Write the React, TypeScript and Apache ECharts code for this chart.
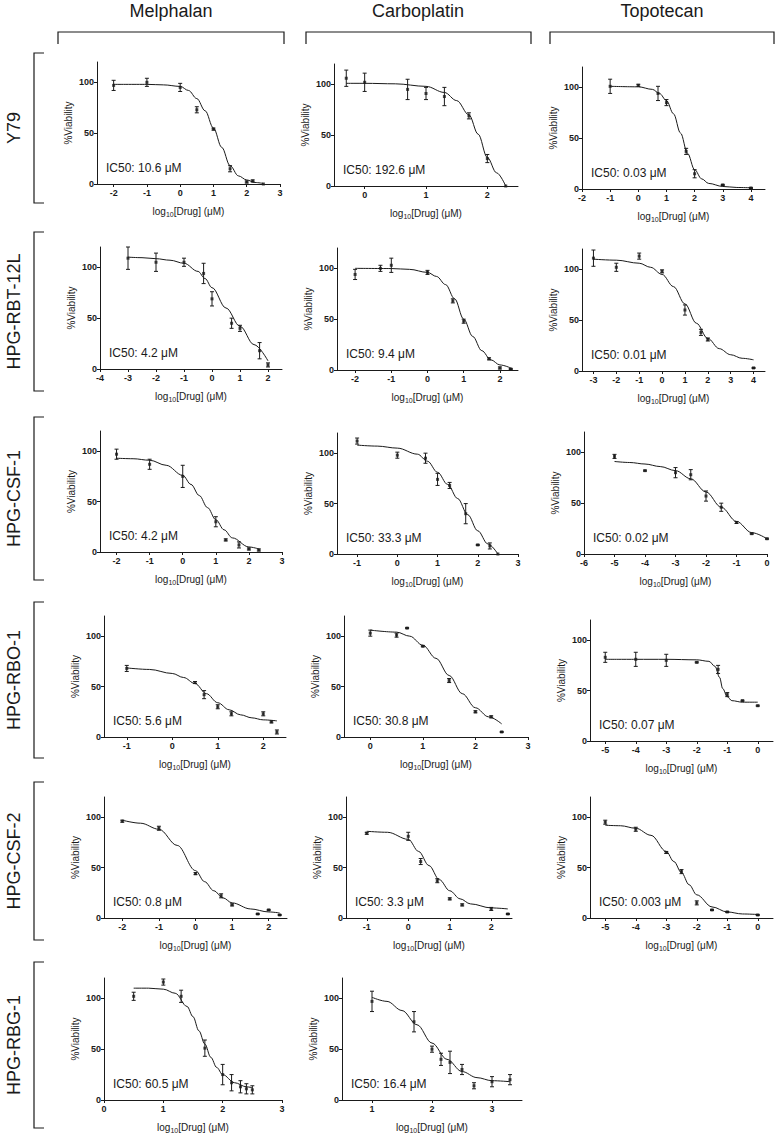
import React, { useEffect, useRef } from "react";
import * as echarts from "echarts";

// ---------- labels ----------
const DRUGS = ["Melphalan", "Carboplatin", "Topotecan"];
const CELL_LINES = ["Y79", "HPG-RBT-12L", "HPG-CSF-1", "HPG-RBO-1", "HPG-CSF-2", "HPG-RBG-1"];

// ---------- data: points [log10 dose, %viability, error] and fitted curve [x, y] ----------
const Y79_MEL_PTS = [[-2, 97, 5], [-1, 100, 4], [0, 95, 4], [0.5, 73, 3], [1, 54, 1], [1.5, 15, 3], [2, 2, 1], [2.18, 3, 1], [2.5, 0, 0]];
const Y79_MEL_FIT = [[-2, 98], [-1, 98], [-0.5, 97.5], [0, 96], [0.25, 92], [0.5, 84], [0.75, 72], [1, 55], [1.25, 36], [1.5, 18], [1.75, 8], [2, 4], [2.25, 1.5], [2.5, 0.5]];
const Y79_CAR_PTS = [[-0.3, 106, 8], [0, 102, 9], [0.7, 95, 10], [1, 91, 6], [1.3, 88, 9], [1.7, 69, 3], [2, 27, 4], [2.3, 0, 0]];
const Y79_CAR_FIT = [[-0.3, 101], [0, 101], [0.5, 100.5], [1, 98], [1.3, 92], [1.5, 84], [1.7, 70], [1.85, 51], [2, 28], [2.15, 13], [2.3, 0]];
const Y79_TOP_PTS = [[-1, 101, 7], [0, 102, 1], [0.7, 94, 7], [1, 85, 3], [1.7, 37, 3], [2, 15, 4], [3, 4, 0.5], [4, 1, 0.5]];
const Y79_TOP_FIT = [[-1, 101], [0, 100.5], [0.5, 98], [0.75, 94], [1, 87], [1.25, 74], [1.5, 55], [1.75, 35], [2, 19], [2.25, 10], [2.5, 5.5], [3, 2.5], [3.5, 1.5], [4, 1.2]];

const RBT_MEL_PTS = [[-3, 109, 11], [-2, 105, 9], [-1, 105, 4], [-0.3, 94, 10], [0, 69, 7], [0.7, 45, 5], [1, 40, 3], [1.7, 18, 8], [2, 4, 2]];
const RBT_MEL_FIT = [[-3, 110], [-2.5, 109.5], [-2, 108.5], [-1.5, 107], [-1, 104], [-0.5, 96], [-0.25, 89], [0, 80], [0.5, 60], [1, 42], [1.5, 24], [2, 8]];
const RBT_CAR_PTS = [[-2, 94, 5], [-1.3, 100, 3], [-1, 103, 7], [0, 96, 2], [0.7, 68, 2], [1, 48, 2], [1.7, 11, 1], [2, 2, 1], [2.3, 1, 0.5]];
const RBT_CAR_FIT = [[-2, 100], [-1, 99.8], [-0.5, 99], [0, 96], [0.25, 92], [0.5, 84], [0.75, 70], [1, 50], [1.25, 33], [1.5, 19], [1.75, 10], [2, 5], [2.3, 2]];
const RBT_TOP_PTS = [[-3, 111, 8], [-2, 102, 4], [-1, 113, 3], [0, 98, 1.5], [1, 60, 5], [1.7, 38, 3], [2, 31, 1.5], [4, 3, 0.5]];
const RBT_TOP_FIT = [[-3, 110], [-2, 109], [-1, 106], [-0.5, 102], [0, 95], [0.5, 83], [1, 66], [1.5, 47], [2, 32], [2.5, 22], [3, 16], [3.5, 12.5], [4, 11]];

const CSF1_MEL_PTS = [[-2, 97, 5], [-1, 87, 5], [0, 75, 11], [1, 30, 5], [1.3, 12, 1], [1.7, 7, 3], [2, 3, 1], [2.3, 2, 1]];
const CSF1_MEL_FIT = [[-2, 93], [-1.5, 92.5], [-1, 91], [-0.5, 86], [0, 76], [0.25, 67], [0.5, 56], [0.75, 44], [1, 32], [1.25, 22], [1.5, 14], [2, 5], [2.3, 3]];
const CSF1_CAR_PTS = [[-1, 112, 3], [0, 98, 3], [0.7, 95, 5], [1, 74, 6], [1.3, 68, 3], [1.7, 40, 10], [2, 9, 0.5], [2.3, 8, 3], [2.5, 0, 0]];
const CSF1_CAR_FIT = [[-1, 108], [-0.5, 107], [0, 105], [0.5, 99], [0.75, 92], [1, 81], [1.25, 69], [1.5, 55], [1.75, 39], [2, 23], [2.25, 10], [2.5, 0]];
const CSF1_TOP_PTS = [[-5, 96, 2], [-4, 82, 0.5], [-3, 80, 5], [-2.5, 78, 5], [-2, 57, 5], [-1.5, 46, 4], [-1, 31, 1], [-0.5, 20, 0.5], [0, 15, 0.5]];
const CSF1_TOP_FIT = [[-5, 91], [-4.5, 90], [-4, 88.5], [-3.5, 86], [-3, 82], [-2.5, 74], [-2, 61], [-1.5, 46], [-1, 32], [-0.5, 21], [0, 15]];

const RBO_MEL_PTS = [[-1, 68, 3], [0.5, 54, 1], [0.7, 42, 4], [1, 30, 2], [1.3, 23, 2], [2, 23, 2], [2.18, 15, 1], [2.3, 5, 2]];
const RBO_MEL_FIT = [[-1, 68.5], [-0.5, 67], [0, 63], [0.25, 59], [0.5, 53], [0.75, 43], [1, 34], [1.25, 27], [1.5, 22], [1.75, 19], [2, 17], [2.3, 16]];
const RBO_CAR_PTS = [[0, 103, 3], [0.5, 101, 2], [0.7, 108, 0.5], [1, 90, 0.5], [1.5, 56, 2], [2, 25, 1], [2.3, 20, 1], [2.5, 5, 0.5]];
const RBO_CAR_FIT = [[0, 106], [0.5, 104], [0.75, 100], [1, 91], [1.25, 78], [1.5, 61], [1.75, 43], [2, 29], [2.25, 20], [2.5, 13]];
const RBO_TOP_PTS = [[-5, 83, 5], [-4, 81, 7], [-3, 80, 6], [-2, 78, 0.5], [-1.3, 71, 4], [-1, 46, 2], [-0.5, 40, 0.5], [0, 35, 0.5]];
const RBO_TOP_FIT = [[-5, 81], [-4, 81], [-3, 81], [-2, 80.5], [-1.6, 79], [-1.4, 74], [-1.25, 63], [-1.15, 52], [-1, 44], [-0.85, 40], [-0.5, 38.5], [0, 38.5]];

const CSF2_MEL_PTS = [[-2, 96, 1], [-1, 89, 2], [0, 44, 1], [0.7, 22, 2], [1, 13, 1], [1.7, 4, 0.5], [2, 8, 0.5], [2.3, 3, 0.5]];
const CSF2_MEL_FIT = [[-2, 97], [-1.5, 94], [-1, 88], [-0.5, 72], [0, 47], [0.25, 36], [0.5, 27], [0.75, 20], [1, 15], [1.5, 9], [2, 6], [2.3, 5]];
const CSF2_CAR_PTS = [[-1, 84, 1], [0, 81, 4], [0.3, 56, 3], [0.7, 37, 2], [1, 19, 1], [1.3, 13, 1], [2, 9, 1.5], [2.4, 4, 0.5]];
const CSF2_CAR_FIT = [[-1, 86], [-0.5, 85], [0, 78], [0.25, 66], [0.5, 52], [0.75, 38], [1, 27], [1.25, 19], [1.5, 14], [2, 10], [2.4, 9]];
const CSF2_TOP_PTS = [[-5, 95, 2], [-4, 88, 2], [-3, 65, 1], [-2.5, 46, 2], [-2, 15, 2], [-1.5, 8, 0.5], [-1, 6, 0.5], [0, 3, 0.5]];
const CSF2_TOP_FIT = [[-5, 92], [-4.5, 91.5], [-4, 89], [-3.5, 82], [-3, 66], [-2.75, 56], [-2.5, 45], [-2.25, 33], [-2, 23], [-1.5, 11], [-1, 6], [-0.5, 4], [0, 3.5]];

const RBG_MEL_PTS = [[0.5, 102, 4], [1, 116, 3], [1.3, 102, 6], [1.7, 51, 8], [2, 25, 10], [2.15, 17, 8], [2.3, 13, 6], [2.4, 11, 5], [2.5, 10, 4]];
const RBG_MEL_FIT = [[0.5, 110], [0.75, 110], [1, 109], [1.2, 105], [1.4, 92], [1.5, 82], [1.6, 68], [1.7, 55], [1.8, 42], [1.9, 32], [2, 25], [2.2, 17], [2.4, 13], [2.5, 12]];
const RBG_CAR_PTS = [[1, 97, 10], [1.7, 77, 10], [2, 50, 3], [2.15, 40, 6], [2.3, 37, 11], [2.5, 30, 5], [2.7, 14, 3], [3, 18, 5], [3.3, 20, 5]];
const RBG_CAR_FIT = [[1, 101], [1.25, 97], [1.5, 88], [1.75, 74], [2, 56], [2.25, 40], [2.5, 28], [2.75, 22], [3, 19], [3.3, 18]];

const IC50_LABELS = [
  "IC50: 10.6 μM", "IC50: 192.6 μM", "IC50: 0.03 μM",
  "IC50: 4.2 μM", "IC50: 9.4 μM", "IC50: 0.01 μM",
  "IC50: 4.2 μM", "IC50: 33.3 μM", "IC50: 0.02 μM",
  "IC50: 5.6 μM", "IC50: 30.8 μM", "IC50: 0.07 μM",
  "IC50: 0.8 μM", "IC50: 3.3 μM", "IC50: 0.003 μM",
  "IC50: 60.5 μM", "IC50: 16.4 μM",
];

const Y_TICKS = [0, 50, 100];
const X_TICKS_A = [-2, -1, 0, 1, 2, 3];
const X_TICKS_B = [0, 1, 2];
const X_TICKS_C = [-2, -1, 0, 1, 2, 3, 4];
const X_TICKS_D = [-4, -3, -2, -1, 0, 1, 2];
const X_TICKS_E = [-2, -1, 0, 1, 2];
const X_TICKS_F = [-3, -2, -1, 0, 1, 2, 3, 4];
const X_TICKS_G = [-1, 0, 1, 2, 3];
const X_TICKS_H = [-6, -5, -4, -3, -2, -1, 0];
const X_TICKS_I = [-1, 0, 1, 2];
const X_TICKS_J = [0, 1, 2, 3];
const X_TICKS_K = [-5, -4, -3, -2, -1, 0];
const X_TICKS_L = [1, 2, 3];

// ---------- layout (pixels) ----------
// box: [row, col, left, right, top, bottom, xmin, xmax]
const PANELS: any[] = [
  { pts: Y79_MEL_PTS, fit: Y79_MEL_FIT, ticks: X_TICKS_A, box: [0, 0, 97, 280, 62, 184, -2.5, 3] },
  { pts: Y79_CAR_PTS, fit: Y79_CAR_FIT, ticks: X_TICKS_B, box: [0, 1, 334, 518, 64, 186, -0.5, 2.5] },
  { pts: Y79_TOP_PTS, fit: Y79_TOP_FIT, ticks: X_TICKS_C, box: [0, 2, 582, 765, 67, 189, -2, 4.5] },
  { pts: RBT_MEL_PTS, fit: RBT_MEL_FIT, ticks: X_TICKS_D, box: [1, 0, 100, 282, 247, 369, -4, 2.5] },
  { pts: RBT_CAR_PTS, fit: RBT_CAR_FIT, ticks: X_TICKS_E, box: [1, 1, 337, 518, 248, 370, -2.5, 2.5] },
  { pts: RBT_TOP_PTS, fit: RBT_TOP_FIT, ticks: X_TICKS_F, box: [1, 2, 582, 765, 249, 371, -3.5, 4.5] },
  { pts: CSF1_MEL_PTS, fit: CSF1_MEL_FIT, ticks: X_TICKS_A, box: [2, 0, 100, 282, 431, 552, -2.5, 3] },
  { pts: CSF1_CAR_PTS, fit: CSF1_CAR_FIT, ticks: X_TICKS_G, box: [2, 1, 337, 518, 433, 554, -1.5, 3] },
  { pts: CSF1_TOP_PTS, fit: CSF1_TOP_FIT, ticks: X_TICKS_H, box: [2, 2, 584, 767, 432, 554, -6, 0] },
  { pts: RBO_MEL_PTS, fit: RBO_MEL_FIT, ticks: X_TICKS_I, box: [3, 0, 104, 286, 616, 737, -1.5, 2.5] },
  { pts: RBO_CAR_PTS, fit: RBO_CAR_FIT, ticks: X_TICKS_J, box: [3, 1, 344, 528, 616, 737, -0.5, 3] },
  { pts: RBO_TOP_PTS, fit: RBO_TOP_FIT, ticks: X_TICKS_K, box: [3, 2, 590, 773, 620, 741, -5.5, 0.5] },
  { pts: CSF2_MEL_PTS, fit: CSF2_MEL_FIT, ticks: X_TICKS_E, box: [4, 0, 104, 287, 797, 918, -2.5, 2.5] },
  { pts: CSF2_CAR_PTS, fit: CSF2_CAR_FIT, ticks: X_TICKS_I, box: [4, 1, 346, 512, 797, 918, -1.5, 2.5] },
  { pts: CSF2_TOP_PTS, fit: CSF2_TOP_FIT, ticks: X_TICKS_K, box: [4, 2, 590, 773, 797, 918, -5.5, 0.5] },
  { pts: RBG_MEL_PTS, fit: RBG_MEL_FIT, ticks: X_TICKS_J, box: [5, 0, 104, 282, 978, 1100, 0, 3] },
  { pts: RBG_CAR_PTS, fit: RBG_CAR_FIT, ticks: X_TICKS_L, box: [5, 1, 342, 522, 978, 1100, 0.5, 3.5] },
];

const TITLE_X = [171, 418, 662];
const COL_BRACKETS = [[58, 284], [306, 531], [550, 774]];
const ROW_BRACKETS = [[53, 203], [232, 391], [417, 580], [602, 758], [782, 940], [962, 1128]];

const FONT = "Arial, 'Liberation Sans', Helvetica, sans-serif";
const INK = "#1a1a1a";

function buildOption() {
  const grid: any[] = [];
  const xAxis: any[] = [];
  const yAxis: any[] = [];
  const series: any[] = [];
  const graphic: any[] = [];

  PANELS.forEach((p, i) => {
    const [, , left, right, top, bottom, xmin, xmax] = p.box;
    grid.push({ left, top, width: right - left, height: bottom - top, containLabel: false });
    xAxis.push({
      type: "value",
      gridIndex: i,
      min: xmin,
      max: xmax,
      axisLine: { onZero: false, lineStyle: { color: INK, width: 1 } },
      axisTick: { customValues: p.ticks, length: 3, lineStyle: { color: INK, width: 1 } },
      axisLabel: { customValues: p.ticks, fontSize: 9, fontWeight: "bold", color: INK, margin: 4, fontFamily: FONT },
      splitLine: { show: false },
      name: "{a|log}{s|10}{a|[Drug] (μM)}",
      nameLocation: "middle",
      nameGap: 20,
      nameTextStyle: {
        rich: {
          a: { fontSize: 10, lineHeight: 14, color: INK, fontFamily: FONT },
          s: { fontSize: 7, lineHeight: 8, verticalAlign: "bottom", color: INK, fontFamily: FONT },
        },
      },
    });
    yAxis.push({
      type: "value",
      gridIndex: i,
      min: 0,
      max: 120,
      axisLine: { show: true, onZero: false, lineStyle: { color: INK, width: 1 } },
      axisTick: { show: true, customValues: Y_TICKS, length: 3, lineStyle: { color: INK, width: 1 } },
      axisLabel: { customValues: Y_TICKS, fontSize: 9, fontWeight: "bold", color: INK, margin: 3, fontFamily: FONT },
      splitLine: { show: false },
      name: "%Viability",
      nameLocation: "middle",
      nameGap: 24,
      nameTextStyle: { fontSize: 10, color: INK, fontFamily: FONT },
    });
    series.push({
      type: "line",
      xAxisIndex: i,
      yAxisIndex: i,
      data: p.fit,
      smooth: 0.35,
      smoothMonotone: "x",
      showSymbol: false,
      lineStyle: { color: INK, width: 1 },
      silent: true,
    });
    series.push({
      type: "custom",
      xAxisIndex: i,
      yAxisIndex: i,
      data: p.pts.filter((d: number[]) => d[2] > 0).map((d: number[]) => [d[0], d[1] - d[2], d[1] + d[2]]),
      encode: { x: 0, y: [1, 2] },
      clip: false,
      renderItem: (params: any, api: any) => {
        const x = api.value(0);
        const lo = api.coord([x, api.value(1)]);
        const hi = api.coord([x, api.value(2)]);
        const w = 2;
        const st = { stroke: INK, lineWidth: 1 };
        return {
          type: "group",
          children: [
            { type: "line", shape: { x1: lo[0], y1: lo[1], x2: hi[0], y2: hi[1] }, style: st },
            { type: "line", shape: { x1: lo[0] - w, y1: lo[1], x2: lo[0] + w, y2: lo[1] }, style: st },
            { type: "line", shape: { x1: hi[0] - w, y1: hi[1], x2: hi[0] + w, y2: hi[1] }, style: st },
          ],
        };
      },
    });
    series.push({
      type: "scatter",
      xAxisIndex: i,
      yAxisIndex: i,
      data: p.pts.map((d: number[]) => [d[0], d[1]]),
      symbol: "rect",
      symbolSize: 3,
      itemStyle: { color: INK },
      clip: false,
    });
    graphic.push({
      type: "text",
      x: left + 9,
      y: bottom - 16,
      style: { text: IC50_LABELS[i], font: `12px ${FONT}`, fill: INK, align: "left", verticalAlign: "middle" },
    });
  });

  DRUGS.forEach((d, c) => {
    graphic.push({
      type: "text",
      x: TITLE_X[c],
      y: 11,
      style: { text: d, font: `18px ${FONT}`, fill: INK, align: "center", verticalAlign: "middle" },
    });
    const [a, b] = COL_BRACKETS[c];
    graphic.push({
      type: "polyline",
      shape: { points: [[a, 44], [a, 32], [b, 32], [b, 44]] },
      style: { stroke: INK, lineWidth: 1.2, fill: "none" },
    });
  });

  CELL_LINES.forEach((name, r) => {
    const [t, b] = ROW_BRACKETS[r];
    graphic.push({
      type: "polyline",
      shape: { points: [[44, t], [34, t], [34, b], [44, b]] },
      style: { stroke: INK, lineWidth: 1.2, fill: "none" },
    });
    graphic.push({
      type: "text",
      x: 14,
      y: (t + b) / 2,
      rotation: Math.PI / 2,
      style: { text: name, font: `18px ${FONT}`, fill: INK, align: "center", verticalAlign: "middle" },
    });
  });

  return {
    animation: false,
    backgroundColor: "#ffffff",
    grid,
    xAxis,
    yAxis,
    series,
    graphic,
  };
}

export default function App() {
  const ref = useRef<HTMLDivElement>(null);
  useEffect(() => {
    document.body.style.margin = "0";
    const chart = echarts.init(ref.current!, undefined, { renderer: "svg" });
    chart.setOption(buildOption());
    return () => chart.dispose();
  }, []);
  return <div ref={ref} style={{ width: 775, height: 1135 }} />;
}
